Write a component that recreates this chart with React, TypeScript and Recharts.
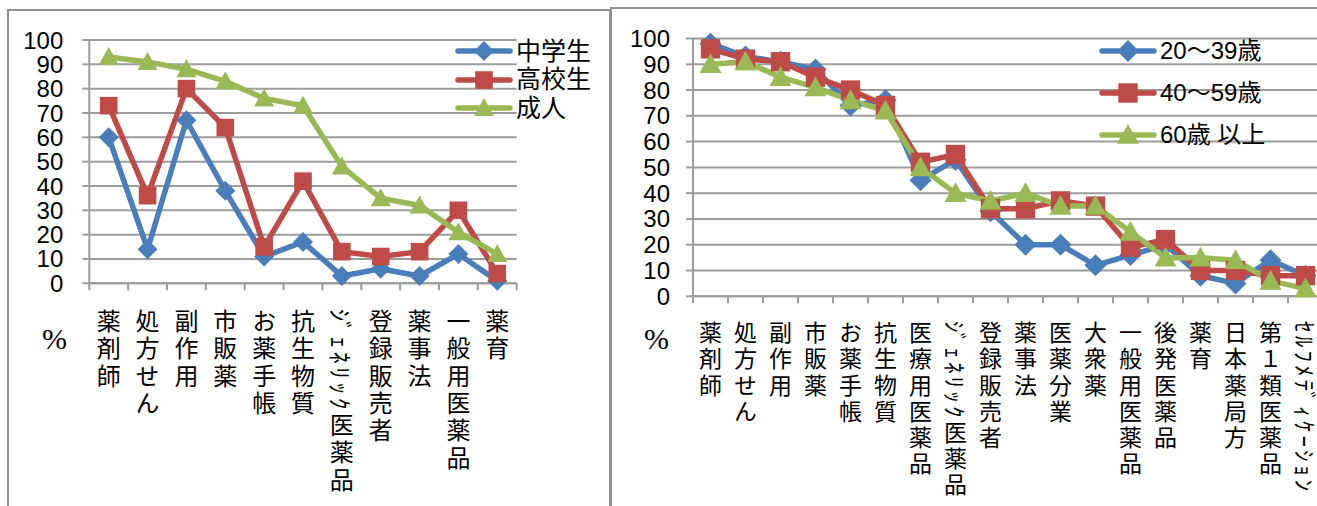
import React from 'react'
import { LineChart, Line, XAxis, YAxis, CartesianGrid, Legend } from 'recharts'

// left panel: students vs adults
const studentTerms = [
  '薬剤師', '処方せん', '副作用', '市販薬', 'お薬手帳', '抗生物質',
  'ｼﾞｪﾈﾘｯｸ医薬品', '登録販売者', '薬事法', '一般用医薬品', '薬育',
]
const juniorHigh = [60, 14, 67, 38, 11, 17, 3, 6, 3, 12, 1]
const highSchool = [73, 36, 80, 64, 15, 42, 13, 11, 13, 30, 4]
const adults = [93, 91, 88, 83, 76, 73, 48, 35, 32, 21, 12]

// right panel: adults by age group
const ageTerms = [
  '薬剤師', '処方せん', '副作用', '市販薬', 'お薬手帳', '抗生物質', '医療用医薬品',
  'ｼﾞｪﾈﾘｯｸ医薬品', '登録販売者', '薬事法', '医薬分業', '大衆薬', '一般用医薬品',
  '後発医薬品', '薬育', '日本薬局方', '第１類医薬品', 'ｾﾙﾌﾒﾃﾞｨｹｰｼｮﾝ',
]
const age20to39 = [98, 93, 91, 88, 74, 76, 45, 53, 33, 20, 20, 12, 16, 20, 8, 5, 14, 8]
const age40to59 = [96, 92, 91, 85, 80, 74, 52, 55, 34, 34, 37, 35, 19, 22, 10, 10, 8, 8]
const age60plus = [90, 91, 85, 81, 76, 72, 50, 40, 37, 40, 35, 35, 25, 15, 15, 14, 6, 3]

const yTicks = [0, 10, 20, 30, 40, 50, 60, 70, 80, 90, 100]

const BLUE = '#4a7ebb'
const RED = '#be4b48'
const GREEN = '#98b954'
const GRID = '#9c9c9c'
const CJK = '"Noto Sans CJK JP", sans-serif'
const LATIN = '"Liberation Sans", Arial, sans-serif'

type Shape = 'diamond' | 'square' | 'triangle'
type Series = { key: string; name: string; color: string; shape: Shape; values: number[] }

const studentSeries: Series[] = [
  { key: 'juniorHigh', name: '中学生', color: BLUE, shape: 'diamond', values: juniorHigh },
  { key: 'highSchool', name: '高校生', color: RED, shape: 'square', values: highSchool },
  { key: 'adults', name: '成人', color: GREEN, shape: 'triangle', values: adults },
]

const ageSeries: Series[] = [
  { key: 'age20to39', name: '20～39歳', color: BLUE, shape: 'diamond', values: age20to39 },
  { key: 'age40to59', name: '40～59歳', color: RED, shape: 'square', values: age40to59 },
  { key: 'age60plus', name: '60歳 以上', color: GREEN, shape: 'triangle', values: age60plus },
]

function buildRows(terms: string[], series: Series[]) {
  return terms.map((term, i) => {
    const row: Record<string, string | number> = { term }
    series.forEach((s) => { row[s.key] = s.values[i] })
    return row
  })
}

function Marker({ cx, cy, shape, color, size }: { cx?: number; cy?: number; shape: Shape; color: string; size: number }) {
  if (cx == null || cy == null) return null
  const h = size / 2
  if (shape === 'diamond') {
    return <path d={`M${cx},${cy - h}L${cx + h},${cy}L${cx},${cy + h}L${cx - h},${cy}Z`} fill={color} />
  }
  if (shape === 'square') {
    const s = size * 0.88
    return <rect x={cx - s / 2} y={cy - s / 2} width={s} height={s} fill={color} />
  }
  return <path d={`M${cx},${cy - h}L${cx + h},${cy + h * 0.8}L${cx - h},${cy + h * 0.8}Z`} fill={color} />
}

function LegendBox({ series, rowHeight, size, fontSize }: { series: Series[]; rowHeight: number; size: number; fontSize: number }) {
  return (
    <div>
      {series.map((s) => (
        <div key={s.key} style={{ display: 'flex', alignItems: 'center', height: rowHeight }}>
          <svg width={58} height={26} style={{ display: 'block' }}>
            <line x1={3} x2={55} y1={13} y2={13} stroke={s.color} strokeWidth={5.5} strokeLinecap="round" />
            <Marker cx={29} cy={13} shape={s.shape} color={s.color} size={size} />
          </svg>
          <span style={{ marginLeft: 3, fontSize, fontFamily: `"Liberation Sans", ${CJK}`, lineHeight: 1, color: '#000', whiteSpace: 'nowrap' }}>
            {s.name}
          </span>
        </div>
      ))}
    </div>
  )
}

// category labels run top-to-bottom; tick marks sit on the category boundaries
function makeTick(step: number, axisY: number, top: number, fontSize: number, spacing: number, count: number) {
  return (props: any) => {
    const { x, payload, index } = props
    return (
      <g>
        <line x1={x - step / 2} x2={x - step / 2} y1={axisY} y2={axisY + 7} stroke={GRID} strokeWidth={2} />
        {index === count - 1 && (
          <line x1={x + step / 2} x2={x + step / 2} y1={axisY} y2={axisY + 7} stroke={GRID} strokeWidth={2} />
        )}
        <text
          x={x}
          y={top}
          fill="#000"
          fontSize={fontSize}
          fontFamily={CJK}
          style={{ writingMode: 'vertical-rl', letterSpacing: spacing }}
        >
          {payload.value}
        </text>
      </g>
    )
  }
}

type PanelProps = {
  terms: string[]
  series: Series[]
  width: number
  height: number
  axisWidth: number
  plotWidth: number
  top: number
  bottom: number
  tickGap: number
  labelTop: number
  labelSize: number
  labelSpacing: number
  markerSize: number
  legendLeft: number
  legendTop: number
  legendRow: number
  legendFont: number
}

function Panel(p: PanelProps) {
  const rows = buildRows(p.terms, p.series)
  const step = p.plotWidth / p.terms.length
  return (
    <LineChart
      width={p.width}
      height={p.height}
      data={rows}
      margin={{ top: p.top, right: p.width - p.axisWidth - p.plotWidth, bottom: 0, left: 0 }}
    >
      <CartesianGrid vertical={false} stroke={GRID} strokeWidth={2} />
      <XAxis
        dataKey="term"
        interval={0}
        height={p.height - p.bottom}
        padding={{ left: step / 2, right: step / 2 }}
        axisLine={{ stroke: GRID, strokeWidth: 2 }}
        tickLine={false}
        tick={makeTick(step, p.bottom, p.labelTop, p.labelSize, p.labelSpacing, p.terms.length)}
      />
      <YAxis
        width={p.axisWidth}
        domain={[0, 100]}
        ticks={yTicks}
        interval={0}
        axisLine={{ stroke: GRID, strokeWidth: 2 }}
        tickLine={{ stroke: GRID, strokeWidth: 2 }}
        tickSize={7}
        tickMargin={p.tickGap}
        tick={{ fill: '#000', fontSize: 24, fontFamily: LATIN }}
      />
      <Legend
        layout="vertical"
        align="center"
        verticalAlign="middle"
        wrapperStyle={{ left: p.legendLeft, top: p.legendTop, width: 230, height: 'auto' }}
        content={() => <LegendBox series={p.series} rowHeight={p.legendRow} size={p.markerSize} fontSize={p.legendFont} />}
      />
      {p.series.map((s) => (
        <Line
          key={s.key}
          dataKey={s.key}
          name={s.name}
          stroke={s.color}
          strokeWidth={5.5}
          isAnimationActive={false}
          activeDot={false}
          dot={(d: any) => (
            <Marker key={`${s.key}-${d.index}`} cx={d.cx} cy={d.cy} shape={s.shape} color={s.color} size={p.markerSize} />
          )}
        />
      ))}
    </LineChart>
  )
}

export default function App() {
  return (
    <div style={{ position: 'absolute', left: 0, top: 0, width: 1317, height: 506, overflow: 'hidden', background: '#fff' }}>
      <div style={{ position: 'absolute', left: 7, top: 9, width: 604, height: 540, border: '2px solid #8f8f8f', boxSizing: 'border-box' }} />
      <div style={{ position: 'absolute', left: 610, top: 7, width: 800, height: 540, border: '2px solid #8f8f8f', boxSizing: 'border-box' }} />

      <div style={{ position: 'absolute', left: 0, top: 0 }}>
        <Panel
          terms={studentTerms}
          series={studentSeries}
          width={610}
          height={506}
          axisWidth={89.3}
          plotWidth={427.4}
          top={40}
          bottom={283.3}
          tickGap={19}
          labelTop={309}
          labelSize={24}
          labelSpacing={3.3}
          markerSize={20}
          legendLeft={455}
          legendTop={37}
          legendRow={28.5}
          legendFont={25}
        />
      </div>
      <div style={{ position: 'absolute', left: 42, top: 322, fontSize: 30, fontFamily: '"Liberation Serif", serif', color: '#000' }}>%</div>

      <div style={{ position: 'absolute', left: 611, top: 0 }}>
        <Panel
          terms={ageTerms}
          series={ageSeries}
          width={720}
          height={506}
          axisWidth={82}
          plotWidth={630}
          top={38.5}
          bottom={296.3}
          tickGap={16}
          labelTop={321}
          labelSize={23}
          labelSpacing={3.2}
          markerSize={22}
          legendLeft={488}
          legendTop={30.5}
          legendRow={41.7}
          legendFont={24}
        />
      </div>
      <div style={{ position: 'absolute', left: 644, top: 322, fontSize: 30, fontFamily: '"Liberation Serif", serif', color: '#000' }}>%</div>
    </div>
  )
}
